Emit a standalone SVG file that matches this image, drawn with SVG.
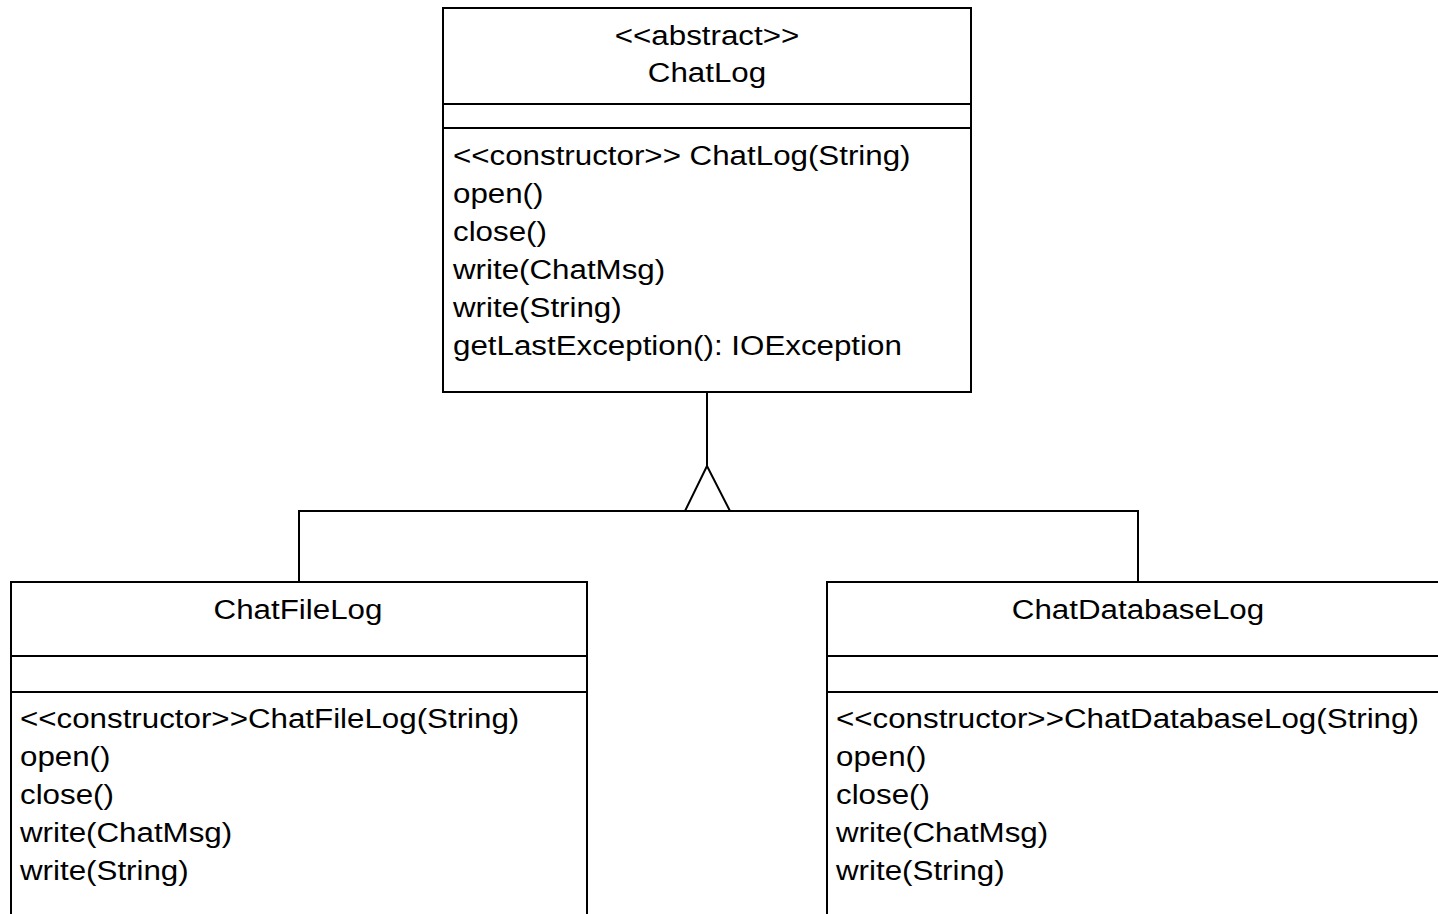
<svg xmlns="http://www.w3.org/2000/svg" width="1438" height="914" viewBox="0 0 1438 914">
<style>
.box{fill:#fff;stroke:#000;stroke-width:2}
.ln{fill:none;stroke:#000;stroke-width:2}
text{font-family:"Liberation Sans",Arial,sans-serif;font-size:27px;fill:#000}
.c{text-anchor:middle}
</style>
<rect width="1438" height="914" fill="#fff"/>
<g id="connectors">
<polyline class="ln" points="707,392 707,466"/>
<polygon class="ln" points="707,466 685,511 730,511"/>
<polyline class="ln" points="299,582 299,511 1138,511 1138,582"/>
</g>
<g id="ChatLog">
<rect class="box" x="443" y="8" width="528" height="384"/>
<line class="ln" x1="443" y1="104" x2="971" y2="104"/>
<line class="ln" x1="443" y1="128" x2="971" y2="128"/>
<text class="c" transform="translate(707,45) scale(1.16,1)">&lt;&lt;abstract&gt;&gt;</text>
<text class="c" transform="translate(707,82) scale(1.16,1)">ChatLog</text>
<text transform="translate(453,165) scale(1.16,1)">&lt;&lt;constructor&gt;&gt; ChatLog(String)</text>
<text transform="translate(453,203) scale(1.16,1)">open()</text>
<text transform="translate(453,241) scale(1.16,1)">close()</text>
<text transform="translate(453,279) scale(1.16,1)">write(ChatMsg)</text>
<text transform="translate(453,317) scale(1.16,1)">write(String)</text>
<text transform="translate(453,355) scale(1.16,1)">getLastException(): IOException</text>
</g>
<g id="ChatFileLog">
<rect class="box" x="11" y="582" width="576" height="340"/>
<line class="ln" x1="11" y1="656" x2="587" y2="656"/>
<line class="ln" x1="11" y1="692" x2="587" y2="692"/>
<text class="c" transform="translate(298,619) scale(1.16,1)">ChatFileLog</text>
<text transform="translate(20,728) scale(1.16,1)">&lt;&lt;constructor&gt;&gt;ChatFileLog(String)</text>
<text transform="translate(20,766) scale(1.16,1)">open()</text>
<text transform="translate(20,804) scale(1.16,1)">close()</text>
<text transform="translate(20,842) scale(1.16,1)">write(ChatMsg)</text>
<text transform="translate(20,880) scale(1.16,1)">write(String)</text>
</g>
<g id="ChatDatabaseLog">
<rect class="box" x="827" y="582" width="622" height="340"/>
<line class="ln" x1="827" y1="656" x2="1449" y2="656"/>
<line class="ln" x1="827" y1="692" x2="1449" y2="692"/>
<text class="c" transform="translate(1138,619) scale(1.16,1)">ChatDatabaseLog</text>
<text transform="translate(836,728) scale(1.16,1)">&lt;&lt;constructor&gt;&gt;ChatDatabaseLog(String)</text>
<text transform="translate(836,766) scale(1.16,1)">open()</text>
<text transform="translate(836,804) scale(1.16,1)">close()</text>
<text transform="translate(836,842) scale(1.16,1)">write(ChatMsg)</text>
<text transform="translate(836,880) scale(1.16,1)">write(String)</text>
</g>
</svg>
